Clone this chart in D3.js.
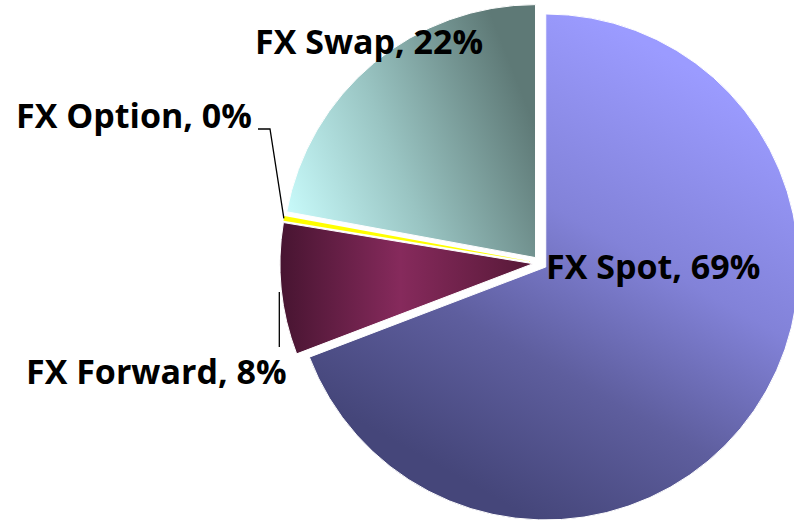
<!DOCTYPE html>
<html>
<head>
<meta charset="utf-8">
<script src="https://cdn.jsdelivr.net/npm/d3@7"></script>
<style>
  html, body { margin: 0; padding: 0; background: #fff; }
  #chart text { font-family: "Open Sans", "Noto Sans", sans-serif; font-weight: 700; }
</style>
</head>
<body>
<div id="chart"></div>
<script>
// Chart data
const categories = ['FX Spot', 'FX Forward', 'FX Option', 'FX Swap'];
const shares = [69.2, 8.4, 0.3, 22.1];

// Chart dimensions
const width = 794;
const height = 524;
const cx = 540;
const cy = 263;
const radius = 253;
const explode = 7;

// Label anchors (left edge, baseline)
const labelAnchors = {
    'FX Spot': [546, 279],
    'FX Forward': [26, 384],
    'FX Option': [16, 128],
    'FX Swap': [255, 54]
};

const data = categories.map((c, i) => ({ name: c, value: shares[i] }));

const svg = d3.select('#chart')
    .append('svg')
    .attr('width', width)
    .attr('height', height);

// Gradients for each slice (page coordinates, converted to the pie frame below)
const defs = svg.append('defs');
const gradients = [
    { id: 'g-spot', x1: 730, y1: 90, x2: 500, y2: 500,
      stops: [[0, '#9b9bff'], [0.4, '#8282d8'], [0.7, '#5e5e9e'], [1, '#45467a']] },
    { id: 'g-forward', x1: 285, y1: 0, x2: 530, y2: 0,
      stops: [[0, '#461430'], [0.5, '#862a5c'], [1, '#5a1a3a']] },
    { id: 'g-option', x1: 280, y1: 0, x2: 530, y2: 0,
      stops: [[0, '#ffff00'], [1, '#ffff00']] },
    { id: 'g-swap', x1: 295, y1: 215, x2: 535, y2: 120,
      stops: [[0, '#c6f8f8'], [0.45, '#99c4c2'], [1, '#5e7976']] }
];
gradients.forEach(gr => {
    const lg = defs.append('linearGradient')
        .attr('id', gr.id)
        .attr('gradientUnits', 'userSpaceOnUse')
        .attr('x1', gr.x1 - cx).attr('y1', gr.y1 - cy)
        .attr('x2', gr.x2 - cx).attr('y2', gr.y2 - cy);
    gr.stops.forEach(s => lg.append('stop').attr('offset', s[0]).attr('stop-color', s[1]));
});
const fillFor = { 'FX Spot': 'g-spot', 'FX Forward': 'g-forward', 'FX Option': 'g-option', 'FX Swap': 'g-swap' };

const pie = d3.pie().value(d => d.value).sort(null);
const arcs = pie(data);

const arc = d3.arc().innerRadius(0).outerRadius(radius);

// offset of each exploded slice
const shift = a => {
    const mid = (a.startAngle + a.endAngle) / 2;
    return [explode * Math.sin(mid), -explode * Math.cos(mid)];
};

// Slices
const g = svg.append('g').attr('transform', `translate(${cx}, ${cy})`);

g.selectAll('.slice')
    .data(arcs)
    .enter()
    .append('path')
    .attr('class', 'slice')
    .attr('transform', d => `translate(${shift(d)[0]}, ${shift(d)[1]})`)
    .attr('d', arc)
    .attr('fill', d => `url(#${fillFor[d.data.name]})`)
    .attr('stroke', d => d.data.name === 'FX Option' ? 'none' : '#fff')
    .attr('stroke-width', 1);

// edge point of a slice at its middle angle
const edgePoint = a => {
    const mid = (a.startAngle + a.endAngle) / 2;
    const s = shift(a);
    return [cx + s[0] + radius * Math.sin(mid), cy + s[1] - radius * Math.cos(mid)];
};

// Leader lines
const optionArc = arcs.find(a => a.data.name === 'FX Option');
const fwdArc = arcs.find(a => a.data.name === 'FX Forward');
const optEdge = edgePoint(optionArc);
const fwdEdge = edgePoint(fwdArc);

svg.append('polyline')
    .attr('points', [[258, 129], [270, 129], optEdge].map(p => p.join(',')).join(' '))
    .attr('fill', 'none')
    .attr('stroke', '#000')
    .attr('stroke-width', 1.3);

svg.append('polyline')
    .attr('points', [[fwdEdge[0] - 2, fwdEdge[1] + 3], [fwdEdge[0] - 2, 347]].map(p => p.join(',')).join(' '))
    .attr('fill', 'none')
    .attr('stroke', '#000')
    .attr('stroke-width', 1.3);

// Data labels
svg.selectAll('.label')
    .data(arcs)
    .enter()
    .append('text')
    .attr('class', 'label')
    .attr('x', d => labelAnchors[d.data.name][0])
    .attr('y', d => labelAnchors[d.data.name][1])
    .attr('font-size', '34px')
    .attr('fill', '#000')
    .text(d => `${d.data.name}, ${Math.round(d.data.value)}%`);
</script>
</body>
</html>
